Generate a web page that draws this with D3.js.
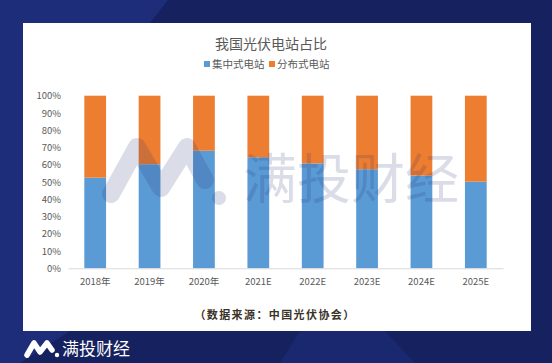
<!DOCTYPE html>
<html>
<head>
<meta charset="utf-8">
<script src="https://cdn.jsdelivr.net/npm/d3@7"></script>
<style>
  body { margin: 0; padding: 0; background: #172264; }
  svg { display: block; }
  text { font-family: "Noto Sans CJK SC", "Noto Sans", sans-serif; }
</style>
</head>
<body>
<script>
// data
var years = ["2018年", "2019年", "2020年", "2021E", "2022E", "2023E", "2024E", "2025E"];
var central = [52.5, 60.3, 68.1, 64.3, 60.8, 57.4, 53.7, 50.2];   // 集中式电站 %
var distributed = central.map(function(v) { return 100 - v; });   // 分布式电站 %
var seriesNames = ["集中式电站", "分布式电站"];
var yTicks = [0, 10, 20, 30, 40, 50, 60, 70, 80, 90, 100];

var W = 552, H = 363;
var colors = ["#5b9bd5", "#ed7d31"];

var svg = d3.select("body").append("svg")
  .attr("width", W)
  .attr("height", H);

// background with lighter diagonal shapes
svg.append("rect").attr("width", W).attr("height", H).attr("fill", "#16215f");
svg.append("polygon").attr("points", "0,0 168,0 150,23 23,23 23,331 0,331").attr("fill", "#1d2d7a");
svg.append("polygon").attr("points", "0,331 70,331 20,363 0,363").attr("fill", "#1d2d7a");
svg.append("polygon").attr("points", "300,331 385,331 415,363 280,363").attr("fill", "#1a2870");

// white card
svg.append("rect")
  .attr("x", 23).attr("y", 23)
  .attr("width", 508).attr("height", 308)
  .attr("fill", "#ffffff");

var margin = {top: 95.7, left: 68, right: 49, bottom: 94.7};
var w = W - margin.left - margin.right,
    h = H - margin.top - margin.bottom;

var g = svg.append("g")
  .attr("transform", "translate(" + margin.left + "," + margin.top + ")");

var xScale = d3.scaleBand()
  .domain(years)
  .range([0, w])
  .paddingInner(0.6)
  .paddingOuter(0.3);

var yScale = d3.scaleLinear()
  .domain([0, 100])
  .range([h, 0]);

var stackData = years.map(function(y, i) {
  return {year: y, c: central[i], d: distributed[i]};
});
var stack = d3.stack().keys(["c", "d"]);
var layers = stack(stackData);

g.selectAll("g.layer")
  .data(layers)
  .enter().append("g")
  .attr("class", "layer")
  .attr("fill", function(d, i) { return colors[i]; })
  .selectAll("rect")
  .data(function(d) { return d; })
  .enter().append("rect")
  .attr("x", function(d) { return xScale(d.data.year); })
  .attr("width", xScale.bandwidth())
  .attr("y", function(d) { return yScale(d[1]); })
  .attr("height", function(d) { return yScale(d[0]) - yScale(d[1]); });

// y axis labels
var yAxis = d3.axisLeft(yScale)
  .tickValues(yTicks)
  .tickSize(0)
  .tickPadding(7)
  .tickFormat(function(d) { return d + "%"; });
var yg = g.append("g").call(yAxis);
yg.select(".domain").remove();
yg.selectAll("text").attr("fill", "#595959").style("font-size", "9.5px");

// x axis
var xAxis = d3.axisBottom(xScale).tickSize(0).tickPadding(10);
var xg = g.append("g")
  .attr("transform", "translate(0," + h + ")")
  .call(xAxis);
xg.select(".domain").attr("stroke", "#d9d9d9");
xg.selectAll("text").attr("fill", "#595959").style("font-size", "9.5px");

// title
svg.append("text")
  .attr("x", 271).attr("y", 49)
  .attr("text-anchor", "middle")
  .attr("fill", "#595959")
  .style("font-size", "14px")
  .text("我国光伏电站占比");

// legend
var legendX = [204, 269];
seriesNames.forEach(function(name, i) {
  svg.append("rect")
    .attr("x", legendX[i]).attr("y", 61)
    .attr("width", 6).attr("height", 6)
    .attr("fill", colors[i]);
  svg.append("text")
    .attr("x", legendX[i] + 8).attr("y", 68)
    .attr("fill", "#595959")
    .style("font-size", "10.5px")
    .text(name);
});

// source note
svg.append("text")
  .attr("x", 275).attr("y", 319)
  .attr("text-anchor", "middle")
  .attr("fill", "#3a3328")
  .style("font-size", "11px")
  .style("font-weight", "bold")
  .style("letter-spacing", "1.4px")
  .text("（数据来源：中国光伏协会）");

// watermark
var wm = svg.append("g").attr("opacity", 0.16);
wm.append("path")
  .attr("d", "M111,194 L137,147 L161,188 L187,147 L205,180")
  .attr("fill", "none")
  .attr("stroke", "#1f2a6e")
  .attr("stroke-width", 18)
  .attr("stroke-linecap", "round")
  .attr("stroke-linejoin", "round");
wm.append("circle").attr("cx", 219).attr("cy", 198).attr("r", 7).attr("fill", "#1f2a6e");
wm.append("text")
  .attr("x", 243).attr("y", 199)
  .attr("fill", "#1f2a6e")
  .style("font-size", "54px")
  .text("满投财经");

// bottom logo
var logo = svg.append("g");
logo.append("path")
  .attr("d", "M27,355 L34,343 L40,352 L47,343 L52,350")
  .attr("fill", "none")
  .attr("stroke", "#ffffff")
  .attr("stroke-width", 5.5)
  .attr("stroke-linecap", "round")
  .attr("stroke-linejoin", "round");
logo.append("circle").attr("cx", 57).attr("cy", 355).attr("r", 2.2).attr("fill", "#ffffff");
logo.append("text")
  .attr("x", 62).attr("y", 355)
  .attr("fill", "#ffffff")
  .style("font-size", "17px")
  .text("满投财经");
</script>
</body>
</html>
